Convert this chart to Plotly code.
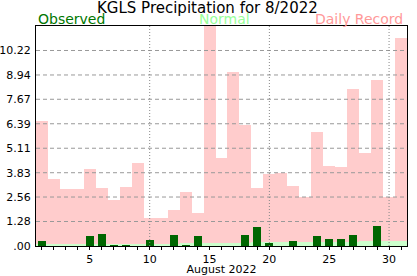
import plotly.graph_objects as go

days = list(range(1, 32))
record = [6.56, 3.50, 2.98, 2.98, 4.02, 3.03, 2.40, 3.08, 4.34, 1.46,
          1.46, 1.88, 2.82, 1.72, 12.00, 4.60, 9.08, 6.32, 3.03, 3.76,
          3.82, 3.14, 2.56, 5.96, 4.18, 4.13, 8.21, 4.86, 8.68, 2.56, 10.87]
normal = [0.10] * 12 + [0.14] * 6 + [0.20] * 9 + [0.25] * 4
observed = [0.26, 0, 0, 0, 0.52, 0.63, 0.05, 0.05, 0, 0.31,
            0, 0.57, 0.05, 0.52, 0, 0, 0, 0.57, 0.99, 0.16,
            0, 0.26, 0, 0.52, 0.37, 0.37, 0.57, 0, 1.05, 0, 0]

ytick_labels = [".00", "1.28", "2.56", "3.83", "5.11", "6.39", "7.67", "8.94", "10.22"]
ytick_vals = [float(t) for t in ytick_labels]
xtick_vals = [5, 10, 15, 20, 25, 30]
xgrid_vals = [10, 20, 30]
y_max = 11.5

FONT = "DejaVu Sans"

fig = go.Figure()
fig.add_trace(go.Bar(x=days, y=record, width=1, marker=dict(color="#FFCCCC", line=dict(width=0)),
                     name="Daily Record"))
fig.add_trace(go.Bar(x=days, y=normal, width=1, marker=dict(color="#CCFFCC", line=dict(width=0)),
                     name="Normal"))
fig.add_trace(go.Bar(x=days, y=observed, width=0.67, marker=dict(color="#006600", line=dict(width=0)),
                     name="Observed"))

shapes = []
for v in ytick_vals[1:]:
    shapes.append(dict(type="line", xref="paper", x0=0, x1=1, yref="y", y0=v, y1=v,
                       line=dict(color="#999999", width=1, dash="4px,3px"), layer="above"))
for d in xgrid_vals:
    shapes.append(dict(type="line", xref="x", x0=d, x1=d, yref="paper", y0=0, y1=1,
                       line=dict(color="#888888", width=1, dash="1px,2px"), layer="above"))

fig.update_layout(
    width=417, height=276,
    margin=dict(l=36, r=10, t=26, b=30, pad=0, autoexpand=False),
    barmode="overlay", bargap=0,
    showlegend=False,
    plot_bgcolor="white", paper_bgcolor="white",
    font=dict(family=FONT, size=11, color="black"),
    shapes=shapes,
    annotations=[
        dict(text="KGLS Precipitation for 8/2022", xref="paper", yref="paper", x=0.462, y=1.082,
             xanchor="center", yanchor="middle", showarrow=False, font=dict(size=15, color="black")),
        dict(text="Observed", xref="paper", yref="paper", x=0, y=1.032,
             xanchor="left", yanchor="middle", showarrow=False, font=dict(size=14, color="#007700")),
        dict(text="Normal", xref="paper", yref="paper", x=0.507, y=1.032,
             xanchor="center", yanchor="middle", showarrow=False, font=dict(size=14, color="#99FF99")),
        dict(text="Daily Record", xref="paper", yref="paper", x=0.995, y=1.032,
             xanchor="right", yanchor="middle", showarrow=False, font=dict(size=14, color="#FF9999")),
    ],
)

fig.update_xaxes(
    range=[0.5, 31.5], tickvals=xtick_vals, ticks="outside", ticklen=3, tickcolor="black",
    minor=dict(dtick=1, tick0=0, ticks="outside", ticklen=3, tickcolor="black", showgrid=False),
    showgrid=False, zeroline=False, showline=True, mirror=True, linecolor="black", linewidth=1,
    tickfont=dict(size=11), automargin=False,
    title=dict(text="August 2022", font=dict(size=11), standoff=0),
)
fig.update_yaxes(
    range=[0, y_max], tickvals=ytick_vals, ticktext=ytick_labels, ticks="",
    showgrid=False, zeroline=False, showline=True, mirror=True, linecolor="black", linewidth=1,
    tickfont=dict(size=11), automargin=False, ticklabelstandoff=2,
)

fig.write_html("out.html")
